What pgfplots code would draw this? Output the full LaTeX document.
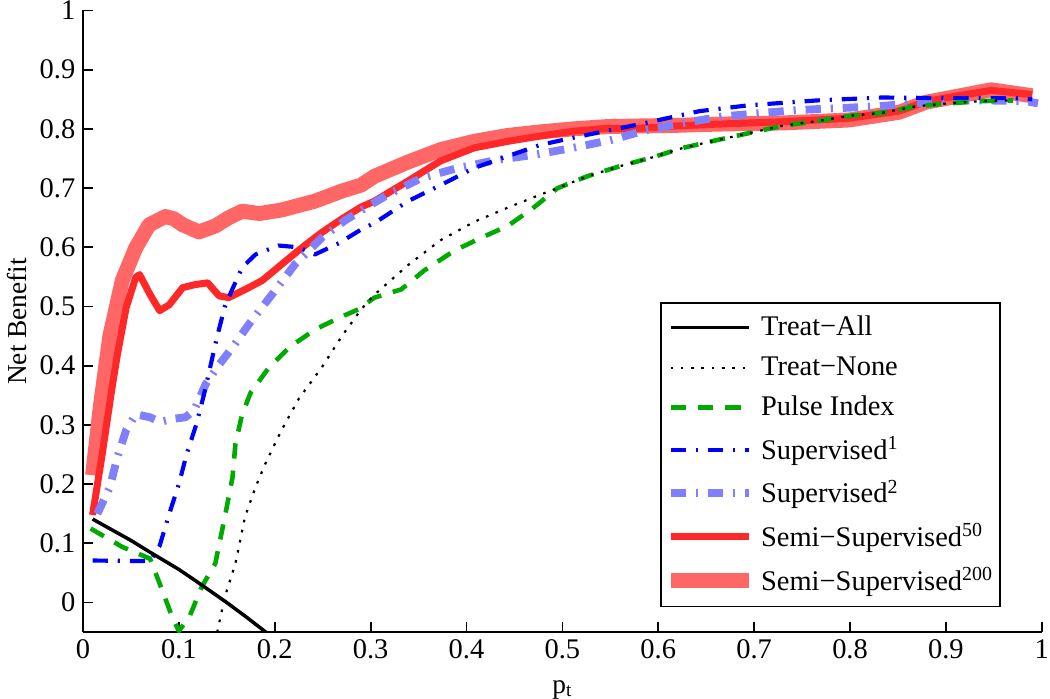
\documentclass[border=0pt]{standalone}
\usepackage{fontspec}
\setmainfont{Liberation Serif}
\usepackage{pgfplots}
\pgfplotsset{compat=1.18}
\definecolor{pulse}{RGB}{0,170,0}
\definecolor{sup1}{RGB}{0,0,255}
\definecolor{sup2}{RGB}{128,128,255}
\definecolor{semi50}{RGB}{255,40,40}
\definecolor{semi200}{RGB}{255,102,102}

\begin{document}
\begin{tikzpicture}
\begin{axis}[
  scale only axis,
  width=438pt, height=284pt,
  xmin=0, xmax=1, ymin=-0.05, ymax=1,
  xtick={0,0.1,...,1}, ytick={0,0.1,...,1},
  axis lines*=left,
  axis line style={line width=0.8pt},
  tick align=inside,
  major tick length=4.5pt,
  every tick/.style={black, line width=0.8pt},
  /pgf/number format/assume math mode=true,
  ticklabel style={font=\fontsize{13}{15}\selectfont},
  xticklabel style={inner xsep=0.5pt},
  yticklabel style={inner ysep=0.5pt},
  xlabel={p\textsubscript{t}},
  ylabel={Net Benefit},
  label style={font=\fontsize{12.5}{14}\selectfont},
  xlabel style={inner ysep=0pt, yshift=-6pt},
  ylabel style={yshift=-1pt},
  reverse legend,
  legend image code/.code={\draw[#1] (0pt,0pt) -- (36pt,0pt);},
  legend style={at={(0.957,0.04)}, anchor=south east, draw=black,
    line width=0.8pt, font=\fontsize{13}{15}\selectfont,
    row sep=4pt, inner xsep=1pt, inner ysep=4pt},
  legend cell align={left},
  every axis plot/.append style={line join=round},
]
% drawn back to front; legend reversed to read Treat-All first
\addplot[semi200, line width=6.8pt] coordinates {
  (0.01,0.215)(0.018,0.33)(0.028,0.45)(0.041,0.544)(0.055,0.599)(0.069,0.638)
  (0.086,0.652)(0.095,0.648)(0.104,0.638)(0.121,0.626)(0.138,0.636)(0.152,0.65)
  (0.166,0.661)(0.184,0.657)(0.207,0.663)(0.242,0.678)(0.27,0.695)(0.29,0.705)
  (0.304,0.72)(0.339,0.744)(0.373,0.765)(0.408,0.779)(0.443,0.789)(0.477,0.795)
  (0.511,0.8)(0.547,0.804)(0.581,0.805)(0.62,0.806)(0.661,0.808)(0.729,0.81)
  (0.799,0.815)(0.851,0.828)(0.879,0.845)(0.902,0.852)(0.947,0.866)(0.99,0.856)
};
\addlegendentry{Semi−Supervised\textsuperscript{200}}

\addplot[semi50, line width=3.2pt] coordinates {
  (0.01,0.148)(0.02,0.25)(0.03,0.36)(0.036,0.42)(0.045,0.498)(0.055,0.549)
  (0.059,0.554)(0.07,0.52)(0.08,0.493)(0.09,0.503)(0.104,0.532)(0.117,0.537)
  (0.13,0.54)(0.142,0.518)(0.152,0.515)(0.173,0.532)(0.187,0.544)(0.207,0.571)
  (0.228,0.599)(0.249,0.625)(0.27,0.648)(0.29,0.668)(0.304,0.678)(0.339,0.712)
  (0.373,0.746)(0.408,0.768)(0.443,0.779)(0.477,0.788)(0.511,0.796)(0.547,0.801)
  (0.581,0.801)(0.62,0.805)(0.661,0.808)(0.729,0.812)(0.799,0.818)(0.851,0.83)
  (0.879,0.846)(0.902,0.853)(0.947,0.865)(0.99,0.858)
};
\addlegendentry{Semi−Supervised\textsuperscript{50}}

\addplot[sup2, line width=3.6pt, dash pattern=on 7pt off 4.5pt on 1pt off 4.5pt] coordinates {
  (0.015,0.15)(0.028,0.195)(0.036,0.246)(0.045,0.291)(0.055,0.318)(0.07,0.313)
  (0.08,0.305)(0.093,0.31)(0.107,0.313)(0.116,0.325)(0.128,0.369)(0.142,0.402)
  (0.156,0.431)(0.173,0.47)(0.197,0.52)(0.221,0.571)(0.249,0.616)(0.273,0.645)
  (0.29,0.662)(0.318,0.689)(0.353,0.717)(0.391,0.734)(0.433,0.748)(0.47,0.756)
  (0.511,0.768)(0.55,0.781)(0.588,0.798)(0.626,0.81)(0.667,0.821)(0.709,0.827)
  (0.747,0.832)(0.788,0.835)(0.827,0.838)(0.868,0.843)(0.902,0.848)(0.944,0.848)
  (0.983,0.847)(0.996,0.843)
};
\addlegendentry{Supervised\textsuperscript{2}}

\addplot[sup1, line width=1.9pt, dash pattern=on 7pt off 4.5pt on 1pt off 4.5pt] coordinates {
  (0.01,0.071)(0.07,0.07)(0.08,0.096)(0.09,0.15)(0.1,0.2)(0.108,0.25)(0.118,0.3)
  (0.126,0.35)(0.133,0.4)(0.14,0.45)(0.148,0.5)(0.156,0.53)(0.166,0.566)
  (0.18,0.588)(0.204,0.603)(0.225,0.6)(0.242,0.588)(0.267,0.607)(0.29,0.63)
  (0.304,0.641)(0.339,0.678)(0.373,0.705)(0.408,0.734)(0.443,0.754)(0.477,0.773)
  (0.511,0.785)(0.547,0.797)(0.581,0.808)(0.609,0.818)(0.643,0.83)(0.695,0.84)
  (0.765,0.848)(0.833,0.853)(0.902,0.852)(0.972,0.852)(0.99,0.85)
};
\addlegendentry{Supervised\textsuperscript{1}}

\addplot[pulse, line width=2.1pt, dash pattern=on 7pt off 5.5pt] coordinates {
  (0.008,0.125)(0.041,0.094)(0.07,0.074)(0.08,0.032)(0.093,-0.024)(0.1,-0.048)
  (0.111,-0.024)(0.124,0.027)(0.138,0.066)(0.148,0.145)(0.156,0.212)(0.159,0.268)
  (0.166,0.318)(0.175,0.355)(0.194,0.397)(0.215,0.431)(0.242,0.461)(0.267,0.481)
  (0.287,0.495)(0.304,0.515)(0.332,0.529)(0.356,0.561)(0.387,0.594)(0.415,0.616)
  (0.443,0.636)(0.47,0.667)(0.495,0.7)(0.526,0.72)(0.56,0.737)(0.594,0.752)
  (0.626,0.768)(0.661,0.781)(0.695,0.793)(0.729,0.805)(0.765,0.813)(0.799,0.822)
  (0.833,0.827)(0.868,0.838)(0.902,0.843)(0.937,0.847)(0.97,0.848)
};
\addlegendentry{Pulse Index}

\addplot[black, line width=1pt, dash pattern=on 1.2pt off 3.5pt] coordinates {
  (0.14,-0.05)(0.142,-0.035)(0.148,0.01)(0.159,0.066)(0.169,0.145)(0.18,0.195)
  (0.19,0.234)(0.207,0.291)(0.225,0.344)(0.249,0.397)(0.27,0.45)(0.29,0.495)
  (0.304,0.52)(0.339,0.57)(0.373,0.612)(0.408,0.643)(0.443,0.667)(0.477,0.689)
  (0.495,0.7)(0.526,0.72)(0.56,0.737)(0.594,0.752)(0.626,0.768)(0.661,0.781)
  (0.695,0.793)(0.729,0.805)(0.765,0.813)(0.799,0.822)(0.833,0.827)(0.868,0.838)
  (0.902,0.843)(0.937,0.847)(0.97,0.848)
};
\addlegendentry{Treat−None}

\addplot[black, line width=1.6pt] coordinates {
  (0.01,0.141)(0.03,0.123)(0.05,0.105)(0.07,0.085)(0.1,0.056)(0.12,0.034)
  (0.15,0.0)(0.17,-0.024)(0.19,-0.049)(0.195,-0.056)
};
\addlegendentry{Treat−All}
\end{axis}
\end{tikzpicture}
\end{document}
